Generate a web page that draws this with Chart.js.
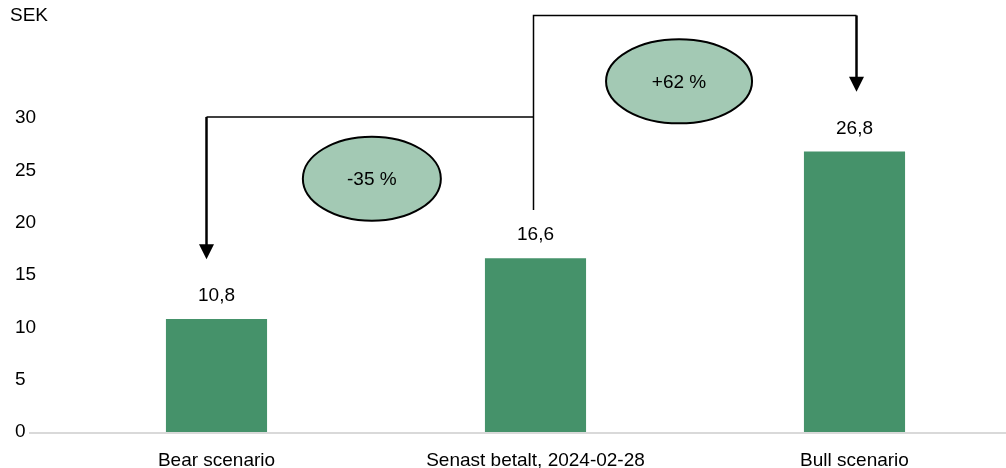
<!DOCTYPE html>
<html>
<head>
<meta charset="utf-8">
<script src="https://cdn.jsdelivr.net/npm/chart.js@4.4.1/dist/chart.umd.min.js"></script>
<style>
  html, body { margin: 0; padding: 0; background: #fff; overflow: hidden; }
  #wrap { width: 1014px; height: 468px; }
</style>
</head>
<body>
<div id="wrap"><canvas id="bar-chart"></canvas></div>
<script>
// data
var categories = ["Bear scenario", "Senast betalt, 2024-02-28", "Bull scenario"];
var values = [10.8, 16.6, 26.8];
var valueLabels = ["10,8", "16,6", "26,8"];
var yTicks = [0, 5, 10, 15, 20, 25, 30];
var unitLabel = "SEK";

// change annotations (x in category units, y in SEK)
var changeLabels = ["-35 %", "+62 %"];
var changeFrom = [1, 1];
var changeTo = [0, 2];
var changeLevel = [30.1, 39.8];
var arrowTip = [16.5, 32.5];
var bubbleX = [0.487, 1.45];
var bubbleY = [24.2, 33.5];

var FONT = "'Liberation Sans', Arial, sans-serif";

var extras = {
  id: 'extras',
  afterDraw: function (chart) {
    var ctx = chart.ctx;
    var xs = chart.scales.x, ys = chart.scales.y;
    var px = function (v) { return xs.getPixelForValue(v); };
    var py = function (v) { return ys.getPixelForValue(v); };
    ctx.save();

    // baseline
    ctx.strokeStyle = '#d9d9d9';
    ctx.lineWidth = 2;
    ctx.beginPath();
    ctx.moveTo(29, py(0) + 1);
    ctx.lineTo(chart.width, py(0) + 1);
    ctx.stroke();

    // unit label
    ctx.fillStyle = '#000';
    ctx.font = '19px ' + FONT;
    ctx.textAlign = 'left';
    ctx.textBaseline = 'middle';
    ctx.fillText(unitLabel, 10, 16);

    // value labels
    ctx.textAlign = 'center';
    var meta = chart.getDatasetMeta(0);
    meta.data.forEach(function (bar, i) {
      ctx.fillText(valueLabels[i], bar.x, bar.y - 23);
    });

    // connectors with arrows
    for (var k = 0; k < changeLabels.length; k++) {
      var x0 = px(changeFrom[k]) - 2;
      var x1 = px(changeTo[k]) + (changeTo[k] < changeFrom[k] ? -10 : 2);
      var yl = py(changeLevel[k]);
      ctx.strokeStyle = '#000';
      ctx.lineWidth = 1.5;
      ctx.beginPath();
      if (k === 1) {
        ctx.moveTo(x0, py(values[changeFrom[k]] + 4.6));
        ctx.lineTo(x0, yl);
      } else {
        ctx.moveTo(x0, yl);
      }
      ctx.lineTo(x1, yl);
      ctx.stroke();
      var tip = py(arrowTip[k]);
      ctx.lineWidth = 2.5;
      ctx.beginPath();
      ctx.moveTo(x1, yl);
      ctx.lineTo(x1, tip - 12);
      ctx.stroke();
      ctx.fillStyle = '#000';
      ctx.beginPath();
      ctx.moveTo(x1 - 7.5, tip - 15);
      ctx.lineTo(x1 + 7.5, tip - 15);
      ctx.lineTo(x1, tip);
      ctx.closePath();
      ctx.fill();

      // bubble
      var cx = px(bubbleX[k]), cy = py(bubbleY[k]);
      var rx = k === 0 ? 69 : 73;
      ctx.beginPath();
      ctx.ellipse(cx, cy, rx, 42, 0, 0, Math.PI * 2);
      ctx.fillStyle = '#a3c9b4';
      ctx.fill();
      ctx.lineWidth = 2;
      ctx.strokeStyle = '#000';
      ctx.stroke();
      ctx.fillStyle = '#000';
      ctx.font = '19px ' + FONT;
      ctx.fillText(changeLabels[k], cx, cy + 1);
    }
    ctx.restore();
  }
};

new Chart(document.getElementById("bar-chart"), {
  type: 'bar',
  data: {
    labels: categories,
    datasets: [{
      data: values,
      backgroundColor: "#45926a",
      categoryPercentage: 1,
      barPercentage: 0.317
    }]
  },
  options: {
    responsive: true,
    maintainAspectRatio: false,
    animation: false,
    layout: { padding: { top: 118, left: 15, right: 0, bottom: 0 } },
    plugins: {
      legend: { display: false },
      tooltip: { enabled: false },
      title: { display: false }
    },
    scales: {
      x: {
        afterFit: function (scale) { scale.height = 36; },
        grid: { display: false, drawTicks: false },
        border: { display: false },
        ticks: {
          color: '#000',
          padding: 19,
          maxRotation: 0,
          font: { family: FONT, size: 19, lineHeight: 1 }
        }
      },
      y: {
        min: 0,
        max: 30,
        afterFit: function (scale) { scale.width = 42; },
        afterBuildTicks: function (scale) {
          scale.ticks = yTicks.map(function (v) { return { value: v }; });
        },
        grid: { display: false, drawTicks: false },
        border: { display: false },
        ticks: {
          color: '#000',
          crossAlign: 'far',
          padding: 8,
          font: { family: FONT, size: 19 }
        }
      }
    }
  },
  plugins: [extras]
});
</script>
</body>
</html>
